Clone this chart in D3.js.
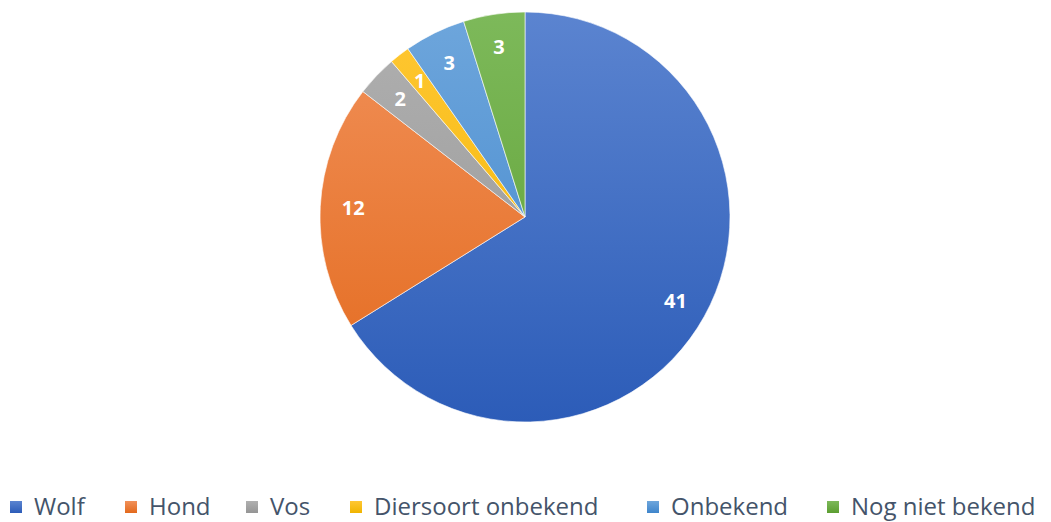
<!DOCTYPE html>
<html>
<head>
<meta charset="utf-8">
<script src="https://cdn.jsdelivr.net/npm/d3@7"></script>
<style>
  body { margin: 0; background: #fff; }
  text { font-family: "Open Sans", "Liberation Sans", sans-serif; }
</style>
</head>
<body>
<div id="container"></div>
<script>
let categories = ["Wolf", "Hond", "Vos", "Diersoort onbekend", "Onbekend", "Nog niet bekend"];
let values = [41, 12, 2, 1, 3, 3];
let topColors = ["#5b84d0", "#f1915a", "#b0b0b0", "#ffc733", "#6ea6dc", "#7db95a"];
let bottomColors = ["#2c5cb8", "#e3691c", "#959595", "#f0b400", "#3f85cb", "#5c9e31"];

let w = 1051;
let h = 522;
let cx = 525;
let cy = 217;
let radius = 205;

let viz = d3.select("#container")
  .append("svg")
    .attr("width", w)
    .attr("height", h)
;

let data = categories.map(function(c, i){
  return { name: c, value: values[i], i: i };
});

// vertical gradients, light at top and dark at bottom (like Excel)
let defs = viz.append("defs");
data.forEach(function(d){
  let g = defs.append("linearGradient")
      .attr("id", "grad" + d.i)
      .attr("gradientUnits", "userSpaceOnUse")
      .attr("x1", 0).attr("y1", -radius)
      .attr("x2", 0).attr("y2", radius)
  ;
  g.append("stop").attr("offset", "0%").attr("stop-color", topColors[d.i]);
  g.append("stop").attr("offset", "100%").attr("stop-color", bottomColors[d.i]);

  let lg = defs.append("linearGradient")
      .attr("id", "lgrad" + d.i)
      .attr("x1", 0).attr("y1", 0)
      .attr("x2", 0).attr("y2", 1)
  ;
  lg.append("stop").attr("offset", "0%").attr("stop-color", topColors[d.i]);
  lg.append("stop").attr("offset", "100%").attr("stop-color", bottomColors[d.i]);
});

let pie = d3.pie()
  .value(function(d){ return d.value; })
  .sort(null)
;

let arcMaker = d3.arc()
  .innerRadius(0)
  .outerRadius(radius)
;

let labelArc = d3.arc()
  .innerRadius(172)
  .outerRadius(172)
;

let pieGroup = viz.append("g")
    .attr("transform", "translate(" + cx + "," + cy + ")")
;

let arcs = pie(data);

pieGroup.selectAll(".slice").data(arcs).enter()
  .append("path")
    .attr("class", "slice")
    .attr("d", arcMaker)
    .attr("fill", function(d){ return "url(#grad" + d.data.i + ")"; })
    .attr("stroke", "#ffffff")
    .attr("stroke-width", 0.6)
;

pieGroup.selectAll(".lbl").data(arcs).enter()
  .append("text")
    .attr("class", "lbl")
    .attr("transform", function(d){ return "translate(" + labelArc.centroid(d) + ")"; })
    .attr("text-anchor", "middle")
    .attr("dy", "0.36em")
    .attr("fill", "#ffffff")
    .style("font-size", "20px")
    .style("font-weight", "bold")
    .text(function(d){ return d.data.value; })
;

// legend
let legendX = [10, 125, 246, 350, 647, 827];
let legend = viz.append("g").attr("class", "legend");
let items = legend.selectAll(".item").data(data).enter()
  .append("g")
    .attr("class", "item")
    .attr("transform", function(d){ return "translate(" + legendX[d.i] + ",0)"; })
;
items.append("rect")
    .attr("x", 0)
    .attr("y", 501)
    .attr("width", 12)
    .attr("height", 12)
    .attr("fill", function(d){ return "url(#lgrad" + d.i + ")"; })
;
items.append("text")
    .attr("x", 24)
    .attr("y", 515)
    .attr("fill", "#44546a")
    .style("font-size", "24px")
    .text(function(d){ return d.name; })
;
</script>
</body>
</html>
